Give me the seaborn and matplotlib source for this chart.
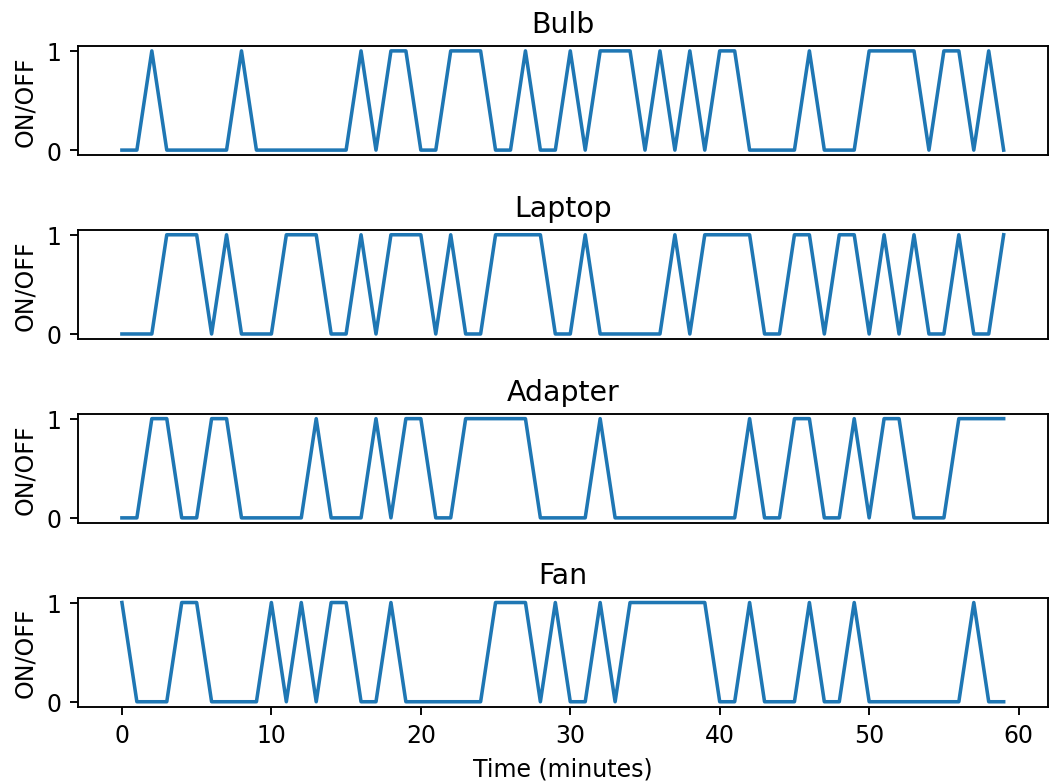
import matplotlib
matplotlib.use('Agg')

import pandas as pd
import matplotlib.pyplot as plt
import seaborn as sns

# minute index 0..59
minutes = list(range(60))

bulb = [0, 0, 1, 0, 0, 0, 0, 0, 1, 0,
        0, 0, 0, 0, 0, 0, 1, 0, 1, 1,
        0, 0, 1, 1, 1, 0, 0, 1, 0, 0,
        1, 0, 1, 1, 1, 0, 1, 0, 1, 0,
        1, 1, 0, 0, 0, 0, 1, 0, 0, 0,
        1, 1, 1, 1, 0, 1, 1, 0, 1, 0]

laptop = [0, 0, 0, 1, 1, 1, 0, 1, 0, 0,
          0, 1, 1, 1, 0, 0, 1, 0, 1, 1,
          1, 0, 1, 0, 0, 1, 1, 1, 1, 0,
          0, 1, 0, 0, 0, 0, 0, 1, 0, 1,
          1, 1, 1, 0, 0, 1, 1, 0, 1, 1,
          0, 1, 0, 1, 0, 0, 1, 0, 0, 1]

adapter = [0, 0, 1, 1, 0, 0, 1, 1, 0, 0,
           0, 0, 0, 1, 0, 0, 0, 1, 0, 1,
           1, 0, 0, 1, 1, 1, 1, 1, 0, 0,
           0, 0, 1, 0, 0, 0, 0, 0, 0, 0,
           0, 0, 1, 0, 0, 1, 1, 0, 0, 1,
           0, 1, 1, 0, 0, 0, 1, 1, 1, 1]

fan = [1, 0, 0, 0, 1, 1, 0, 0, 0, 0,
       1, 0, 1, 0, 1, 1, 0, 0, 1, 0,
       0, 0, 0, 0, 0, 1, 1, 1, 0, 1,
       0, 0, 1, 0, 1, 1, 1, 1, 1, 1,
       0, 0, 1, 0, 0, 0, 1, 0, 0, 1,
       0, 0, 0, 0, 0, 0, 0, 1, 0, 0]

devices = ['Bulb', 'Laptop', 'Adapter', 'Fan']
series = [bulb, laptop, adapter, fan]

fig, axes = plt.subplots(4, 1, figsize=(6.188, 4.6), dpi=170)

for ax, name, vals in zip(axes, devices, series):
    df = pd.DataFrame({'minute': minutes, 'state': vals})
    sns.lineplot(data=df, x='minute', y='state', ax=ax, color='tab:blue')
    ax.set_title(name)
    ax.set_ylabel('ON/OFF')
    ax.set_yticks([0, 1])
    ax.set_xlabel('')

for ax in axes[:-1]:
    ax.set_xticks([])
axes[-1].set_xlabel('Time (minutes)')

plt.tight_layout()
plt.subplots_adjust(left=0.074, right=0.996, top=0.94, bottom=0.095)
plt.savefig('out.png', dpi=170)
